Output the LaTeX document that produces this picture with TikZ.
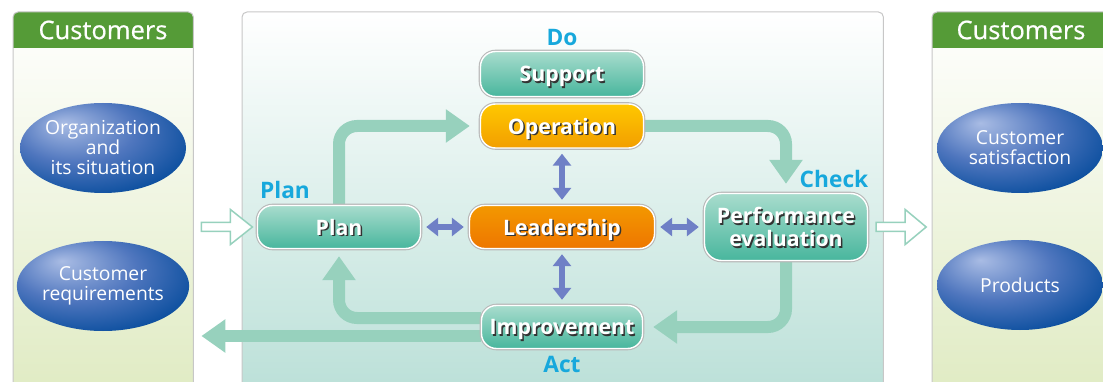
\documentclass[tikz,border=0pt]{standalone}
\usepackage{fontspec}
\setmainfont{Open Sans}
\newfontfamily\hdrfont[FakeBold=0.6]{Open Sans}
\usetikzlibrary{arrows.meta,shapes.geometric,calc}
\definecolor{hdrgreen}{HTML}{559B37}
\definecolor{pgreen}{HTML}{E0EBC3}
\definecolor{pteal}{HTML}{BBE0D8}
\definecolor{lbl}{HTML}{17A8DC}
\definecolor{flow}{HTML}{97D1BD}
\definecolor{dblue}{HTML}{6F80C6}
\definecolor{tealtop}{HTML}{A8DCCD}
\definecolor{tealbot}{HTML}{48B69D}
\definecolor{yeltop}{HTML}{FFC800}
\definecolor{yelbot}{HTML}{F29E00}
\definecolor{orgtop}{HTML}{F39800}
\definecolor{orgbot}{HTML}{EE7600}
\definecolor{bhi}{HTML}{A9BCE4}
\definecolor{bmid}{HTML}{4F76BE}
\definecolor{bdark}{HTML}{0A4E9E}
\pgfdeclareradialshading{ball}{\pgfpoint{-12bp}{14bp}}{color(0bp)=(bhi); color(18bp)=(bmid); color(34bp)=(bdark); color(60bp)=(bdark)}
\pgfdeclarelayer{back}
\pgfdeclarelayer{mid}
\pgfsetlayers{back,mid,main}
\newcommand{\shd}[1]{\rlap{\kern1.5pt\raisebox{-1.5pt}{\color{black!80}#1}}#1}
\tikzset{
  panelbody/.style={anchor=north west, inner sep=0pt, minimum height=380pt},
  pborder/.style={draw=black!22, line width=1pt, rounded corners=5pt},
  hdrtext/.style={text=white, font=\hdrfont\fontsize{25.5}{27}\selectfont},
  box/.style={rounded corners=15pt, minimum height=43pt, inner sep=0pt, draw=white, line width=1.4pt,
    preaction={draw=black!28, line width=3.6pt}, text=white, align=center, text depth=0pt,
    font=\bfseries\fontsize{21.3}{23}\selectfont},
  tealbox/.style={box, top color=tealtop, bottom color=tealbot},
  yelbox/.style={box, top color=yeltop, bottom color=yelbot},
  orgbox/.style={box, top color=orgtop, bottom color=orgbot},
  phase/.style={text=lbl, font=\bfseries\fontsize{22.7}{24}\selectfont},
  ball/.style={ellipse, shading=ball, minimum width=166pt, minimum height=90pt, inner sep=0pt,
    text=white, align=center, font=\fontsize{19.3}{20}\selectfont},
  flowline/.style={draw=flow, line width=12pt, rounded corners=18pt,
    -{Triangle[width=32pt,length=24pt]}},
  dbl/.style={draw=dblue, line width=6pt, {Triangle[width=18pt,length=12pt]}-{Triangle[width=18pt,length=12pt]},
    shorten >=5pt, shorten <=5pt},
  hollow/.style={draw=flow, fill=white, line width=1.5pt, line join=miter},
}
\begin{document}
\begin{tikzpicture}[x=1pt,y=-1pt]
\useasboundingbox (0,0) rectangle (1103,382);
\clip (0,0) rectangle (1103,382);
% panels
\begin{pgfonlayer}{back}
\node[panelbody, top color=white, bottom color=pgreen, minimum width=180pt] (lp) at (13,12) {};
\fill[hdrgreen, rounded corners=5pt] (13,48) -- (13,12) -- (193,12) -- (193,48);
\draw[pborder] (lp.south west) rectangle (lp.north east);
\node[panelbody, top color=white, bottom color=pgreen, minimum width=180pt] (rp) at (932,12) {};
\fill[hdrgreen, rounded corners=5pt] (932,48) -- (932,12) -- (1112,12) -- (1112,48);
\draw[pborder] (rp.south west) rectangle (rp.north east);
\node[panelbody, top color=white, bottom color=pteal, minimum width=641pt] (cp) at (242,12) {};
\draw[pborder] (cp.south west) rectangle (cp.north east);
\end{pgfonlayer}
\node[hdrtext] (lh) at (103,30) {Customers};
\node[hdrtext] (rh) at (1021,30) {Customers};
% ellipses
\node[ball] (org) at (103,148) {Organization\\and\\its situation};
\node[ball] (req) at (103,286) {Customer\\requirements};
\node[ball] (sat) at (1020,148) {Customer\\satisfaction};
\node[ball] (prod) at (1020,285) {Products};
% process boxes
\node[tealbox, minimum width=163pt, minimum height=45pt] (support) at (562,74) {\shd{Support}};
\node[yelbox, minimum width=163pt, minimum height=44pt] (operation) at (562,126) {\shd{Operation}};
\node[tealbox, minimum width=163pt] (plan) at (339,227) {\shd{Plan}};
\node[orgbox, minimum width=185pt] (leader) at (562,227) {\shd{Leadership}};
\node[tealbox, minimum width=163pt, minimum height=67pt, rounded corners=17pt] (perf) at (786,227) {\shd{Performance}\\\shd{evaluation}};
\node[tealbox, minimum width=161pt] (improve) at (562,327) {\shd{Improvement}};
% phase labels
\node[phase] (ldo) at (562,38) {Do};
\node[phase] (lplan) at (285,190) {Plan};
\node[phase] (lcheck) at (834,179) {Check};
\node[phase] (lact) at (562,364) {Act};
% flow arrows
\coordinate (iu) at ([yshift=9pt]improve.west);
\coordinate (id) at ([yshift=-9pt]improve.west);
\begin{pgfonlayer}{mid}
\draw[flowline, shorten >=10pt] (plan.north) -- (plan.north |- operation.west) -- (operation.west);
\draw[flowline, shorten >=9pt] (operation.east) -- (operation.east -| perf.north) -- (perf.north);
\draw[flowline, shorten >=10pt] (perf.south) -- (perf.south |- improve.east) -- (improve.east);
\draw[flowline, shorten >=7pt] (iu) -- (iu -| plan.south) -- (plan.south);
\draw[flowline, shorten >=8pt] (id) -- (id -| lp.east);
\end{pgfonlayer}
% hollow arrows
\draw[hollow] ($(lp.east |- plan.west)+(8,-4.5)$) -- ++(29,0) -- ++(0,-13) -- ++(22,17.5) -- ++(-22,17.5) -- ++(0,-13) -- ++(-29,0) -- cycle;
\draw[hollow] ($(perf.east)+(8,-4.5)$) -- ++(29,0) -- ++(0,-13) -- ++(21,17.5) -- ++(-21,17.5) -- ++(0,-13) -- ++(-29,0) -- cycle;
% double arrows
\draw[dbl] (operation.south) -- (leader.north);
\draw[dbl] (leader.south) -- (improve.north);
\draw[dbl] (plan.east) -- (leader.west);
\draw[dbl] (leader.east) -- (perf.west);
\end{tikzpicture}
\end{document}
